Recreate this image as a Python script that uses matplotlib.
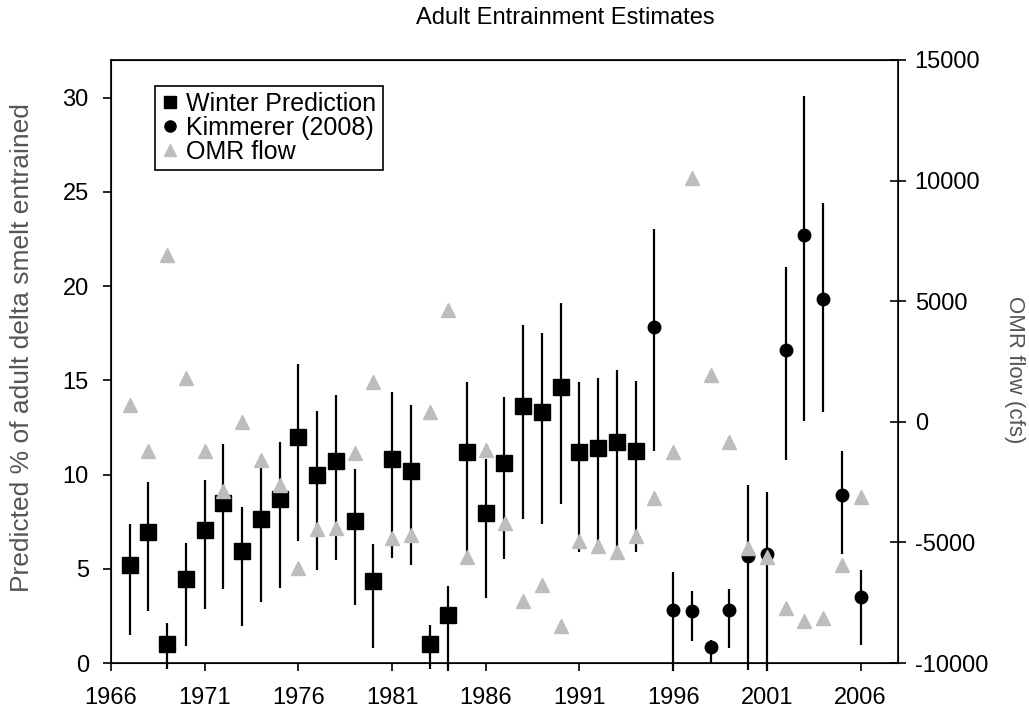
import numpy as np
import matplotlib
matplotlib.use("Agg")
import matplotlib.pyplot as plt
from matplotlib.lines import Line2D

plt.rcParams['font.family'] = ['Liberation Sans', 'DejaVu Sans']
plt.rcParams['axes.unicode_minus'] = False

# Winter Prediction (squares, left axis) with error bar limits
wp_years = list(range(1967, 1995))
wp_val = [5.2, 6.95, 1.0, 4.45, 7.05, 8.5, 5.95, 7.65, 8.7, 12.0, 10.0, 10.7, 7.55, 4.35,
          10.8, 10.2, 1.0, 2.55, 11.2, 7.95, 10.6, 13.65, 13.3, 14.65, 11.2, 11.4, 11.75, 11.25]
wp_hi = [7.35, 9.6, 2.1, 6.35, 9.7, 11.6, 8.3, 10.45, 11.75, 15.85, 13.35, 14.2, 10.3, 6.3,
         14.4, 13.7, 2.0, 4.1, 14.9, 10.85, 14.1, 17.95, 17.5, 19.1, 14.9, 15.15, 15.55, 14.95]
wp_lo = [1.5, 2.75, -0.3, 0.9, 2.85, 3.95, 1.95, 3.25, 4.0, 6.45, 4.95, 5.45, 3.1, 0.8,
         5.55, 5.2, -0.3, -0.4, 5.7, 3.45, 5.5, 7.65, 7.4, 8.45, 5.9, 6.05, 5.9, 5.9]

# Kimmerer (2008) estimates (circles, left axis)
km_years = list(range(1995, 2007))
km_val = [17.85, 2.8, 2.75, 0.85, 2.8, 5.7, 5.8, 16.6, 22.7, 19.3, 8.9, 3.5]
km_hi = [23.05, 4.85, 3.8, 1.2, 3.95, 9.45, 9.1, 21.0, 30.1, 24.4, 11.25, 4.95]
km_lo = [11.25, -0.45, 1.15, 0.0, 0.8, -0.35, -0.45, 10.75, 12.85, 13.3, 5.8, 0.95]
# early years where Kimmerer sits under the winter prediction
km_early_years = [1967, 1978, 1979, 1985, 1991]
km_early_val = [5.2, 10.7, 7.55, 11.2, 11.2]

# OMR flow (triangles, right axis)
omr_years = list(range(1967, 2007))
omr_flow = [700, -1200, 6900, 1800, -1200, -2850, 0, -1600, -2600, -6050,
            -4450, -4400, -1300, 1650, -4800, -4700, 400, 4650, -5600, -1150,
            -4200, -7450, -6750, -8450, -4950, -5150, -5400, -4750, -3150, -1250,
            10100, 1950, -850, -5250, -5600, -7700, -8250, -8150, -5950, -3100]

x_ticks = [1966, 1971, 1976, 1981, 1986, 1991, 1996, 2001, 2006]

fig = plt.figure(figsize=(10.29, 7.17), dpi=100)
ax = fig.add_axes([111/1029, 54/717, 787/1029, 603/717])

wp_val = np.array(wp_val)
km_val = np.array(km_val)
wp_err = [wp_val - np.array(wp_lo), np.array(wp_hi) - wp_val]
km_err = [km_val - np.array(km_lo), np.array(km_hi) - km_val]

ax.plot(km_early_years, km_early_val, 'o', color='black', ms=10, zorder=2)
eb1 = ax.errorbar(wp_years, wp_val, yerr=wp_err, fmt='s', color='black', ms=11.5,
                  elinewidth=1.6, capsize=0, zorder=3)
eb2 = ax.errorbar(km_years, km_val, yerr=km_err, fmt='o', color='black', ms=9,
                  elinewidth=1.6, capsize=0, zorder=3)
for eb in (eb1, eb2):
    for c in eb.lines[2]:
        c.set_clip_on(False)

ax.set_xlim(1966, 2008)
ax.set_ylim(0, 32)
ax.set_xticks(x_ticks)
ax.set_yticks(range(0, 31, 5))
ax.tick_params(axis='both', direction='out', length=6, width=1.2, labelsize=17, pad=10)
ax.tick_params(axis='x', pad=11)
for s in ax.spines.values():
    s.set_linewidth(1.2)

ax2 = ax.twinx()
ax2.plot(omr_years, omr_flow, '^', color='#bdbdbd', ms=10, zorder=4)
ax2.set_ylim(-10000, 15000)
ax2.set_yticks(range(-10000, 15001, 5000))
ax2.tick_params(axis='y', direction='inout', length=12, width=1.2, labelsize=17, pad=6)

handles = [Line2D([], [], ls='none', marker='s', color='black', ms=8),
           Line2D([], [], ls='none', marker='o', color='black', ms=8),
           Line2D([], [], ls='none', marker='^', color='#bdbdbd', ms=9)]
leg = ax.legend(handles, ['Winter Prediction', 'Kimmerer (2008)', 'OMR flow'],
                loc='upper left', bbox_to_anchor=(0.056, 0.957), fontsize=18,
                frameon=True, fancybox=False, framealpha=1, edgecolor='black',
                handlelength=0.7, handletextpad=0.3, labelspacing=0.0,
                borderpad=0.25, borderaxespad=0)
leg.get_frame().set_linewidth(1.2)

fig.text(565/1029, 1 - 18/717, 'Adult Entrainment Estimates', ha='center', va='center', fontsize=17)
fig.text(22/1029, 1 - 348/717, 'Predicted % of adult delta smelt entrained', rotation=90,
         ha='center', va='center', fontsize=19, color='#555555')
fig.text(1014/1029, 1 - 370/717, 'OMR flow (cfs)', rotation=270,
         ha='center', va='center', fontsize=16, color='#555555')

fig.savefig('out.png', dpi=100)
